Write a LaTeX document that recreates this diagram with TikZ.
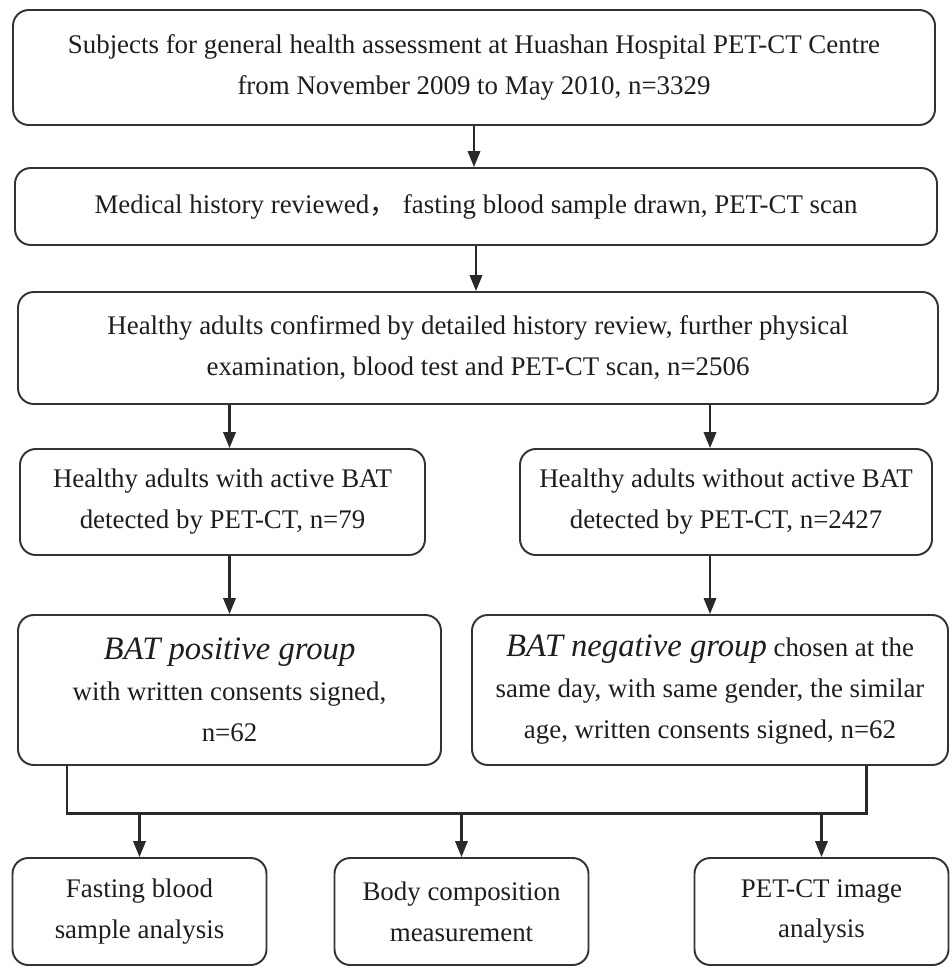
\documentclass[tikz,border=0pt]{standalone}
\usepackage{fontspec}
\setmainfont{Liberation Serif}
\newfontfamily\cjk{Noto Sans CJK SC}
\usetikzlibrary{arrows.meta,positioning,calc}
\definecolor{linegray}{HTML}{333333}
\definecolor{textgray}{HTML}{1E1E1E}

\tikzset{
  box/.style={draw=linegray, line width=1.1pt, rounded corners=9pt, align=center,
    inner sep=0pt, text=textgray, font=\fontsize{15.3}{23.3}\selectfont},
  arr/.style={draw=linegray!80!black, line width=1.3pt, -{Triangle[length=9pt,width=7pt]}},
  bus/.style={draw=linegray!80!black, line width=1.7pt},
}
\newcommand{\grp}[1]{{\fontsize{18.6}{23.3}\selectfont\itshape #1}}

\begin{document}
\begin{tikzpicture}
  \useasboundingbox (0,0) rectangle (19,-19.34);

  % Screening steps
  \node[box, minimum width=18.44cm, minimum height=2.30cm] (subj) at (9.48,-1.35)
    {Subjects for general health assessment at Huashan Hospital PET-CT Centre\\
     from November 2009 to May 2010, n=3329};
  \node[box, minimum width=18.44cm, minimum height=1.54cm] (review) at (9.52,-4.13)
    {Medical history reviewed{\cjk ，} fasting blood sample drawn, PET-CT scan};
  \node[box, minimum width=18.40cm, minimum height=2.24cm] (healthy) at (9.56,-6.96)
    {Healthy adults confirmed by detailed history review, further physical\\
     examination, blood test and PET-CT scan, n=2506};

  % Split by BAT
  \node[box, minimum width=8.10cm, minimum height=2.12cm] (withbat) at (4.45,-10.04)
    {Healthy adults with active BAT\\ detected by PET-CT, n=79};
  \node[box, minimum width=8.24cm, minimum height=2.12cm] (nobat) at (14.52,-10.04)
    {Healthy adults without active BAT\\ detected by PET-CT, n=2427};
  \node[box, minimum width=8.46cm, minimum height=3.00cm] (posgrp) at (4.59,-13.80)
    {\grp{BAT positive group}\\ with written consents signed,\\ n=62};
  \node[box, minimum width=9.52cm, minimum height=3.00cm] (neggrp) at (14.20,-13.80)
    {\grp{BAT negative group} chosen at the\\ same day, with same gender, the similar\\
     age, written consents signed, n=62};

  % Analyses
  \foreach \name/\x/\txt in {
    blood/2.79/{Fasting blood\\ sample analysis},
    body/9.23/{Body composition\\ measurement},
    petct/16.43/{PET-CT image\\ analysis}} {
    \node[box, minimum width=5.08cm, minimum height=2.14cm] (\name) at (\x,-18.23) {\txt};
  }

  \draw[arr] (subj.south) -- (subj.south |- review.north);
  \draw[arr] (review.south) -- (review.south |- healthy.north);
  \draw[arr] (healthy.south -| posgrp.north) -- (withbat.north -| posgrp.north);
  \draw[arr] (healthy.south -| neggrp.north) -- (nobat.north -| neggrp.north);
  \draw[arr] (withbat.south -| posgrp.north) -- (posgrp.north);
  \draw[arr] (nobat.south -| neggrp.north) -- (neggrp.north);

  % Bus line
  \coordinate (busL) at (1.34,-16.26);
  \coordinate (busR) at (17.32,-16.26);
  \draw[bus] (busL |- posgrp.south) -- (busL) -- (busR) -- (busR |- neggrp.south);
  \foreach \name in {blood,body,petct}
    \draw[arr] (busL -| \name.north) -- (\name.north);
\end{tikzpicture}
\end{document}
